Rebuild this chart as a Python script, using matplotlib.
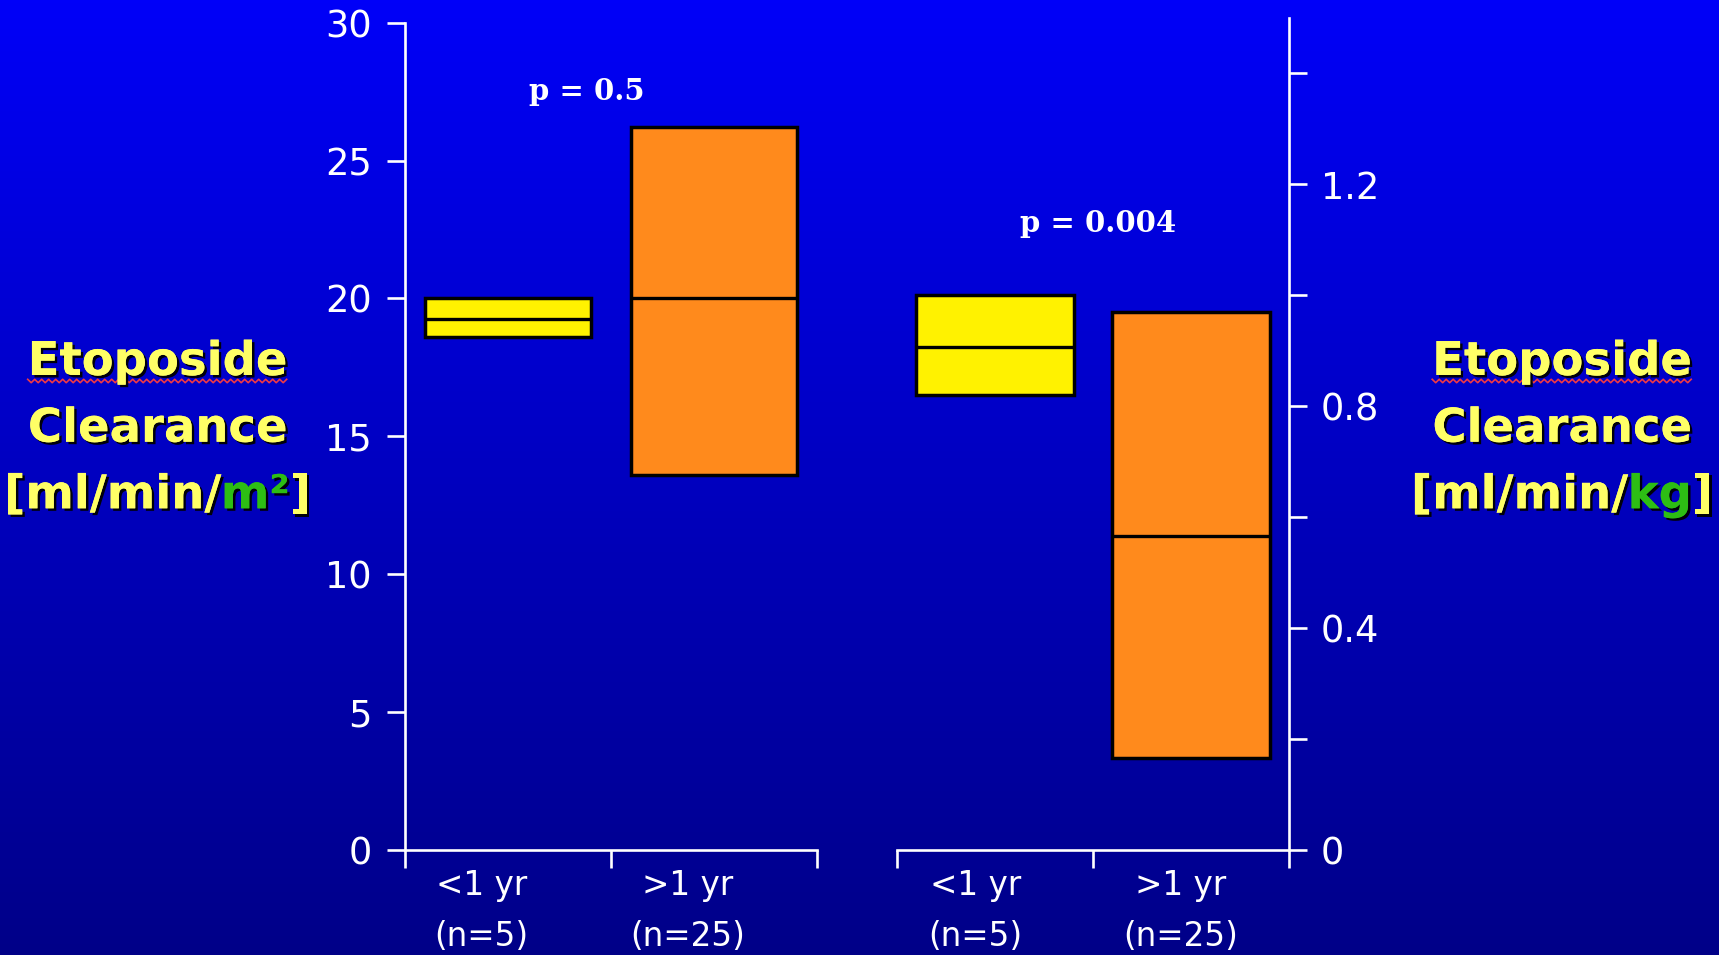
import matplotlib
matplotlib.use("Agg")
import matplotlib.pyplot as plt
import matplotlib.patheffects as pe
from matplotlib.lines import Line2D
from matplotlib.transforms import IdentityTransform
import numpy as np

groups = ["<1 yr", ">1 yr"]
counts = ["(n=5)", "(n=25)"]

# clearance normalised to body surface area [ml/min/m2]
bsa_low = [18.6, 13.6]
bsa_median = [19.25, 20.0]
bsa_high = [20.0, 26.2]
bsa_p = "p = 0.5"

# clearance normalised to body weight [ml/min/kg]
kg_low = [0.82, 0.165]
kg_median = [0.907, 0.567]
kg_high = [1.0, 0.97]
kg_p = "p = 0.004"

bsa_ticks = [0, 5, 10, 15, 20, 25, 30]
kg_ticks = [0, 0.2, 0.4, 0.6, 0.8, 1.0, 1.2, 1.4]
kg_ticklabels = ["0", "", "0.4", "", "0.8", "", "1.2", ""]

box_colors = ["#FFF200", "#FF8A1C"]
label_yellow = "#FFFF66"
label_green = "#2DBE14"

W, H = 1719, 955
fig = plt.figure(figsize=(W / 100, H / 100), dpi=100)

# blue slide background, bright at the top, navy at the bottom
bg = fig.add_axes([0, 0, 1, 1], zorder=-10)
shade = np.linspace(0.973, 0.533, 256)
grad = np.zeros((256, 1, 3))
grad[:, 0, 2] = shade
bg.imshow(grad, aspect="auto", extent=[0, 1, 0, 1])
bg.set_xlim(0, 1)
bg.set_ylim(0, 1)
bg.axis("off")

line_w = 1.9
box_w = 0.81


def style_axes(ax):
    ax.set_facecolor("none")
    for s in ax.spines.values():
        s.set_color("white")
        s.set_linewidth(line_w)
    ax.tick_params(colors="white", direction="out", length=13, width=line_w,
                   labelsize=26.5, pad=11)
    ax.set_xlim(0, 2)
    ax.set_xticks([0, 1, 2])
    ax.set_xticklabels([])


def draw_boxes(ax, low, median, high, label_x):
    pos = np.arange(len(low)) + 0.5
    heights = np.array(high) - np.array(low)
    ax.bar(pos, heights, bottom=low, width=box_w, color=box_colors,
           edgecolor="black", linewidth=2.5, zorder=3)
    ax.hlines(median, pos - box_w / 2, pos + box_w / 2, colors="black",
              linewidth=2.4, zorder=4)
    for x, g, n in zip(label_x, groups, counts):
        ax.annotate(g, xy=(x, 0), xycoords=("data", "axes fraction"),
                    xytext=(0, -45), textcoords="offset pixels",
                    ha="center", va="baseline", color="white", fontsize=23.5)
        ax.annotate(n, xy=(x, 0), xycoords=("data", "axes fraction"),
                    xytext=(0, -96), textcoords="offset pixels",
                    ha="center", va="baseline", color="white", fontsize=23.5,
                    annotation_clip=False)


# left panel: per m2
axL = fig.add_axes([405 / W, 105 / H, 412 / W, 827.3 / H])
style_axes(axL)
axL.spines["top"].set_visible(False)
axL.spines["right"].set_visible(False)
axL.set_ylim(0, 30)
axL.set_yticks(bsa_ticks)
axL.set_yticklabels([str(t) for t in bsa_ticks])
draw_boxes(axL, bsa_low, bsa_median, bsa_high, [0.372, 1.37])
axL.text(0.883, 27.2, bsa_p, ha="center", va="baseline", color="white",
         fontsize=21, fontweight="bold", family="DejaVu Serif")

# right panel: per kg
axR = fig.add_axes([897 / W, 105 / H, 392 / W, 832 / H])
style_axes(axR)
axR.spines["top"].set_visible(False)
axR.spines["left"].set_visible(False)
axR.yaxis.tick_right()
axR.set_ylim(0, 1.5)
axR.set_yticks(kg_ticks)
axR.set_yticklabels(kg_ticklabels)
axR.tick_params(axis="y", pad=10)
draw_boxes(axR, kg_low, kg_median, kg_high, [0.40, 1.445])
axR.text(1.026, 1.115, kg_p, ha="center", va="baseline", color="white",
         fontsize=21, fontweight="bold", family="DejaVu Serif")

# axis titles, yellow with a dark drop shadow
renderer = fig.canvas.get_renderer()
shadow = [pe.withSimplePatchShadow(offset=(1.8, -1.8), shadow_rgbFace="black",
                                   alpha=0.95), pe.Normal()]


def title_line(parts, cx, baseline):
    y = H - baseline
    texts = []
    for s, c in parts:
        t = fig.text(0, y, s, color=c, fontsize=33.5, fontweight="bold",
                     ha="left", va="baseline", transform=IdentityTransform(),
                     path_effects=shadow)
        texts.append(t)
    widths = [t.get_window_extent(renderer).width for t in texts]
    x = cx - sum(widths) / 2
    for t, w in zip(texts, widths):
        t.set_x(x)
        x += w
    return texts


def squiggle(text, baseline):
    bb = text.get_window_extent(renderer)
    xs = np.arange(bb.x0, bb.x1, 3.5)
    ys = H - baseline - 6 + 1.7 * (-1.0) ** np.arange(len(xs))
    fig.add_artist(Line2D(xs, ys, color="#F03A44", linewidth=1.2,
                          transform=IdentityTransform()))


for cx, unit in [(157.5, "m²"), (1562, "kg")]:
    first = title_line([("Etoposide", label_yellow)], cx, 375)
    squiggle(first[0], 375)
    title_line([("Clearance", label_yellow)], cx, 441.7)
    title_line([("[ml/min/", label_yellow), (unit, label_green),
                ("]", label_yellow)], cx, 508.3)

fig.savefig("out.png", dpi=100)
